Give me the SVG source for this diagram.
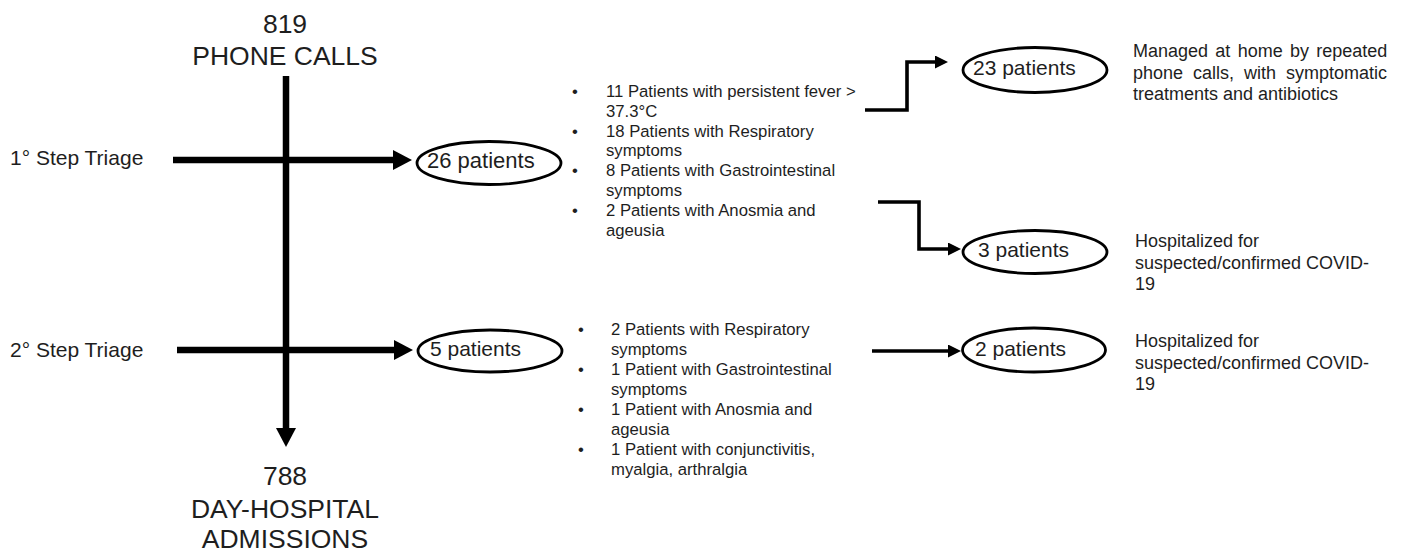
<svg xmlns="http://www.w3.org/2000/svg" width="1406" height="555" viewBox="0 0 1406 555">
<style>
text{font-family:"Liberation Sans",Arial,sans-serif;fill:#1e1e1e}
.big{font-size:26.5px;text-anchor:middle}
.step{font-size:21px}
.node{fill:#fff;stroke:#000;stroke-width:2.8}
.lbl{font-size:21px}
.lst{font-size:16.7px}
.note{font-size:18px}
.thick{fill:none;stroke:#000;stroke-width:6.5}
.thin{fill:none;stroke:#000;stroke-width:3.6;stroke-linejoin:miter}
</style>
<defs>
<marker id="ahThick" markerUnits="userSpaceOnUse" viewBox="0 0 19 20" markerWidth="19" markerHeight="20" refX="0" refY="10" orient="auto"><path d="M0,0 L19,10 L0,20 Z" fill="#000"/></marker>
<marker id="ahThin" markerUnits="userSpaceOnUse" viewBox="0 0 13 13" markerWidth="13" markerHeight="13" refX="0" refY="6.5" orient="auto"><path d="M0,0 L13,6.5 L0,13 Z" fill="#000"/></marker>
</defs>

<g id="connectors">
<line class="thick" x1="286" y1="76" x2="286" y2="428" marker-end="url(#ahThick)"/>
<line class="thick" x1="173" y1="160" x2="393" y2="160" marker-end="url(#ahThick)"/>
<line class="thick" x1="177" y1="350" x2="394" y2="350" marker-end="url(#ahThick)"/>
<polyline class="thin" points="865,110 907,110 907,62 935,62" marker-end="url(#ahThin)"/>
<polyline class="thin" points="878,202 919,202 919,249 948,249" marker-end="url(#ahThin)"/>
<line class="thin" x1="872" y1="351" x2="948" y2="351" marker-end="url(#ahThin)"/>
</g>

<g id="phone-calls">
<text class="big" x="285" y="33">819</text>
<text class="big" x="285" y="65">PHONE CALLS</text>
</g>
<g id="day-hospital">
<text class="big" x="285" y="485">788</text>
<text class="big" x="285" y="518">DAY-HOSPITAL</text>
<text class="big" x="285" y="548">ADMISSIONS</text>
</g>
<g id="step1-label"><text class="step" x="10" y="165">1° Step Triage</text></g>
<g id="step2-label"><text class="step" x="10" y="357">2° Step Triage</text></g>

<g id="n26">
<ellipse class="node" cx="489" cy="163" rx="72" ry="21.5"/>
<text class="lbl" x="427" y="168" style="font-size:22px">26 patients</text>
</g>
<g id="n5">
<ellipse class="node" cx="490" cy="351" rx="72" ry="21"/>
<text class="lbl" x="430" y="356">5 patients</text>
</g>

<g id="list1" class="lst">
<text class="lst" x="572" y="97">•</text>
<text class="lst" x="606" y="97">11 Patients with persistent fever &gt;</text>
<text class="lst" x="606" y="116.8">37.3°C</text>
<text class="lst" x="572" y="136.6">•</text>
<text class="lst" x="606" y="136.6">18 Patients with Respiratory</text>
<text class="lst" x="606" y="156.4">symptoms</text>
<text class="lst" x="572" y="176.2">•</text>
<text class="lst" x="606" y="176.2">8 Patients with Gastrointestinal</text>
<text class="lst" x="606" y="196">symptoms</text>
<text class="lst" x="572" y="215.8">•</text>
<text class="lst" x="606" y="215.8">2 Patients with Anosmia and</text>
<text class="lst" x="606" y="235.6">ageusia</text>
</g>

<g id="list2">
<text class="lst" x="578" y="335">•</text>
<text class="lst" x="611" y="335">2 Patients with Respiratory</text>
<text class="lst" x="611" y="355">symptoms</text>
<text class="lst" x="578" y="375">•</text>
<text class="lst" x="611" y="375">1 Patient with Gastrointestinal</text>
<text class="lst" x="611" y="395">symptoms</text>
<text class="lst" x="578" y="415">•</text>
<text class="lst" x="611" y="415">1 Patient with Anosmia and</text>
<text class="lst" x="611" y="435">ageusia</text>
<text class="lst" x="578" y="455">•</text>
<text class="lst" x="611" y="455">1 Patient with conjunctivitis,</text>
<text class="lst" x="611" y="475">myalgia, arthralgia</text>
</g>

<g id="n23">
<ellipse class="node" cx="1035" cy="70" rx="72" ry="22.5"/>
<text class="lbl" x="973" y="75">23 patients</text>
</g>
<g id="n3">
<ellipse class="node" cx="1035" cy="252" rx="72" ry="21.5"/>
<text class="lbl" x="978" y="257">3 patients</text>
</g>
<g id="n2">
<ellipse class="node" cx="1034" cy="350" rx="71.5" ry="22"/>
<text class="lbl" x="975" y="356">2 patients</text>
</g>

<g id="note-home">
<text class="note" x="1133" y="57" style="word-spacing:2.3px">Managed at home by repeated</text>
<text class="note" x="1133" y="78.5" style="word-spacing:5px">phone calls, with symptomatic</text>
<text class="note" x="1133" y="100">treatments and antibiotics</text>
</g>
<g id="note-hosp1">
<text class="note" x="1135" y="247">Hospitalized for</text>
<text class="note" x="1135" y="268.5">suspected/confirmed COVID-</text>
<text class="note" x="1135" y="290">19</text>
</g>
<g id="note-hosp2">
<text class="note" x="1135" y="347">Hospitalized for</text>
<text class="note" x="1135" y="368.5">suspected/confirmed COVID-</text>
<text class="note" x="1135" y="390">19</text>
</g>
</svg>
